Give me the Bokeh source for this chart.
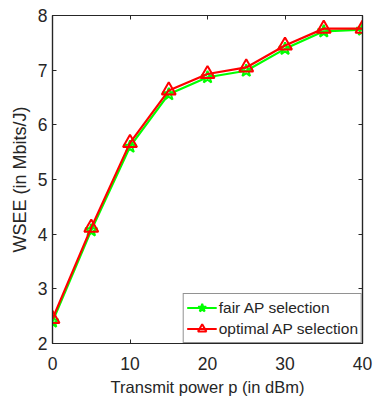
from bokeh.plotting import figure
from bokeh.models import LinearAxis, FixedTicker, Range1d, Legend, LegendItem
from bokeh.embed import file_html
from bokeh.resources import INLINE

power_dbm = [0, 5, 10, 15, 20, 25, 30, 35, 40]
fair_ap = [2.40, 4.07, 5.60, 6.56, 6.87, 6.99, 7.39, 7.71, 7.74]
optimal_ap = [2.45, 4.12, 5.67, 6.63, 6.93, 7.05, 7.45, 7.76, 7.76]
x_ticks = [0, 10, 20, 30, 40]
y_ticks = [2, 3, 4, 5, 6, 7, 8]

FONT = "Liberation Sans"
AX = "#262626"

p = figure(width=375, height=403, output_backend="svg", toolbar_location=None,
           x_range=Range1d(0, 40), y_range=Range1d(2, 8),
           min_border_left=52, min_border_right=13, min_border_top=15, min_border_bottom=60)
p.xgrid.visible = False
p.ygrid.visible = False
p.outline_line_color = AX
p.outline_line_width = 1.2
p.background_fill_color = "white"
p.border_fill_color = "white"

def style(ax, ticks, labels=True):
    ax.ticker = FixedTicker(ticks=ticks)
    ax.axis_line_color = AX
    ax.axis_line_width = 1.2
    ax.major_tick_line_color = AX
    ax.major_tick_in = 4
    ax.major_tick_out = 0
    ax.minor_tick_line_color = None
    ax.major_label_text_color = AX
    ax.major_label_text_font = FONT
    ax.major_label_text_font_size = "17.5px"
    ax.axis_label_text_font = FONT
    ax.axis_label_text_font_size = "16.5px"
    ax.axis_label_text_font_style = "normal"
    ax.axis_label_text_color = AX
    if not labels:
        ax.major_label_overrides = {t: "" for t in ticks}
        ax.major_label_standoff = 0

style(p.xaxis[0], x_ticks)
style(p.yaxis[0], y_ticks)
p.xaxis.axis_label = "Transmit power p (in dBm)"
p.yaxis.axis_label = "WSEE (in Mbits/J)"
p.yaxis.axis_label_text_font_size = "18px"
p.xaxis.major_label_standoff = 13
p.yaxis.major_label_standoff = 5
p.xaxis.axis_label_standoff = 5
p.yaxis.axis_label_standoff = 5

top = LinearAxis()
style(top, x_ticks, labels=False)
p.add_layout(top, "above")
right = LinearAxis()
style(right, y_ticks, labels=False)
p.add_layout(right, "right")

g_line = p.line(power_dbm, fair_ap, line_color="#00FF00", line_width=2.2)
g_mark = p.scatter(power_dbm, fair_ap, marker="star", size=13, fill_color=None,
                   line_color="#00FF00", line_width=2)
r_line = p.line(power_dbm, optimal_ap, line_color="#FF0000", line_width=2.2)
r_mark = p.scatter(power_dbm, optimal_ap, marker="triangle", size=14, fill_color=None,
                   line_color="#FF0000", line_width=2)

legend = Legend(items=[
    LegendItem(label="fair AP selection", renderers=[g_line, g_mark]),
    LegendItem(label="optimal AP selection", renderers=[r_line, r_mark]),
], location="bottom_right")
legend.margin = 0
legend.padding = 3
legend.spacing = 0
legend.border_line_color = AX
legend.border_line_width = 1
legend.label_text_font = FONT
legend.label_text_font_size = "15.5px"
legend.label_text_color = AX
legend.glyph_width = 30
legend.glyph_height = 21
legend.label_standoff = 2
legend.label_height = 21
legend.background_fill_alpha = 1
p.add_layout(legend, "center")

open("out.html", "w").write(file_html(p, INLINE))
